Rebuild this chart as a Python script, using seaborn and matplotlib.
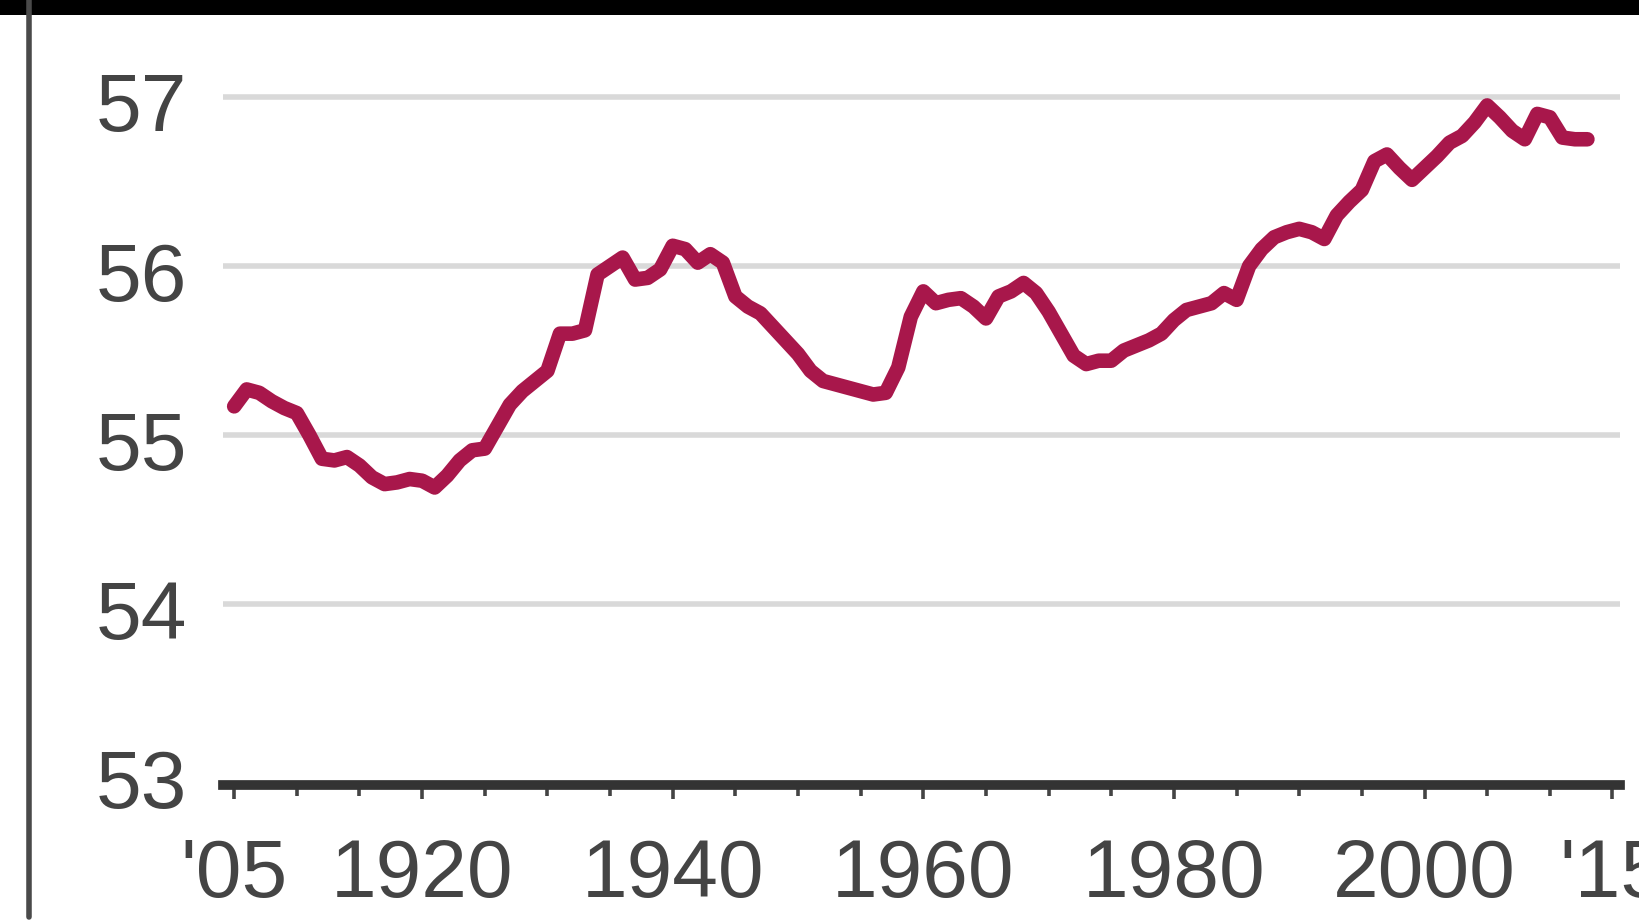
import numpy as np
import pandas as pd
import matplotlib
matplotlib.use("Agg")
import matplotlib.pyplot as plt
from matplotlib.lines import Line2D
from matplotlib.patches import Rectangle
from matplotlib.ticker import FixedLocator, MultipleLocator
from matplotlib.transforms import ScaledTranslation
import seaborn as sns

# Annual series, 1905-2013
years = list(range(1905, 2014))
values = [
    55.17, 55.27, 55.25, 55.20, 55.16, 55.13, 55.00, 54.86, 54.85, 54.87,  # 1905-1914
    54.82, 54.75, 54.71, 54.72, 54.74, 54.73, 54.69, 54.76, 54.85, 54.91,  # 1915-1924
    54.92, 55.05, 55.18, 55.26, 55.32, 55.38, 55.60, 55.60, 55.62, 55.95,  # 1925-1934
    56.00, 56.05, 55.92, 55.93, 55.98, 56.12, 56.10, 56.02, 56.07, 56.02,  # 1935-1944
    55.82, 55.76, 55.72, 55.64, 55.56, 55.48, 55.38, 55.32, 55.30, 55.28,  # 1945-1954
    55.26, 55.24, 55.25, 55.40, 55.70, 55.85, 55.78, 55.80, 55.81, 55.76,  # 1955-1964
    55.69, 55.82, 55.85, 55.90, 55.84, 55.73, 55.60, 55.47, 55.42, 55.44,  # 1965-1974
    55.44, 55.50, 55.53, 55.56, 55.60, 55.68, 55.74, 55.76, 55.78, 55.84,  # 1975-1984
    55.80, 56.00, 56.10, 56.17, 56.20, 56.22, 56.20, 56.16, 56.30, 56.38,  # 1985-1994
    56.45, 56.62, 56.66, 56.58, 56.51, 56.58, 56.65, 56.73, 56.77, 56.85,  # 1995-2004
    56.95, 56.88, 56.80, 56.75, 56.90, 56.88, 56.76, 56.75, 56.75,         # 2005-2013
]

x_ticks = [1905, 1920, 1940, 1960, 1980, 2000, 2015]
x_tick_labels = ["'05", "1920", "1940", "1960", "1980", "2000", "'15"]
y_ticks = [53, 54, 55, 56, 57]
y_tick_labels = ["53", "54", "55", "56", "57"]

df = pd.DataFrame({"year": years, "value": values})

sns.set_style("white")
plt.rcParams["font.family"] = ["Liberation Sans", "DejaVu Sans"]

fig = plt.figure(figsize=(16.39, 9.22), dpi=100)
fig.patch.set_facecolor("white")
ax = fig.add_axes([0.1360, 0.1486, 0.8524, 0.8012])

# horizontal gridlines
for v in y_ticks[1:]:
    ax.axhline(v, color="#d9d9d9", lw=4.0, zorder=1)

sns.lineplot(data=df, x="year", y="value", ax=ax, color="#a8174b",
             linewidth=10.5, solid_joinstyle="round", solid_capstyle="round", zorder=3)

ax.set_xlim(1904.1, 2015.6)
ax.set_ylim(52.93, 57.3)

ax.xaxis.set_major_locator(FixedLocator(x_ticks))
ax.set_xticklabels(x_tick_labels)
ax.xaxis.set_minor_locator(MultipleLocator(5))
ax.set_yticks(y_ticks)
ax.set_yticklabels(y_tick_labels)

ax.set_xlabel("")
ax.set_ylabel("")

for side in ["top", "right", "left"]:
    ax.spines[side].set_visible(False)
ax.spines["bottom"].set_color("#333333")
ax.spines["bottom"].set_linewidth(7)

ax.tick_params(axis="x", which="major", direction="out", length=10, width=2.6,
               color="#444444", labelsize=59, labelcolor="#444444", pad=28, bottom=True)
ax.tick_params(axis="x", which="minor", direction="out", length=8, width=2.6,
               color="#444444", bottom=True)
ax.tick_params(axis="y", which="major", length=0, labelsize=59,
               labelcolor="#444444", pad=26)

# y labels sit slightly below their gridlines
shift = ScaledTranslation(0, -5 / 100, fig.dpi_scale_trans)
for lbl in ax.get_yticklabels():
    lbl.set_transform(lbl.get_transform() + shift)

# frame: black band across the top and a thin rule on the left
fig.add_artist(Rectangle((0, 1 - 15 / 922), 1, 15 / 922, transform=fig.transFigure,
                         facecolor="black", edgecolor="none", zorder=10))
fig.add_artist(Line2D([29 / 1639, 29 / 1639], [5 / 922, 1], transform=fig.transFigure,
                      color="#4a4a4a", lw=4, zorder=10))

fig.savefig("out.png", dpi=100, facecolor="white")
